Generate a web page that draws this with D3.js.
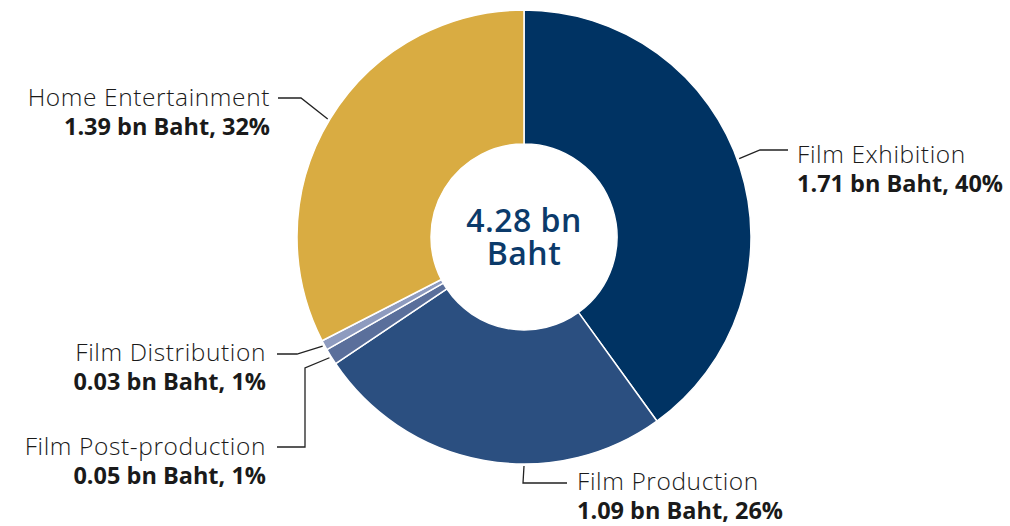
<!DOCTYPE html>
<html><head><meta charset="utf-8">
<script src="https://cdn.jsdelivr.net/npm/d3@7"></script>
<style>
html,body{margin:0;padding:0;background:#fff;}
svg{display:block;}
text{font-family:"Open Sans","Noto Sans",sans-serif;}
</style></head>
<body>
<svg id="chart" width="1010" height="526"></svg>
<script>
const categories = ["Film Exhibition","Film Production","Film Post-production","Film Distribution","Home Entertainment"];
const values = [1.71, 1.09, 0.05, 0.03, 1.39];
const percents = ["40%","26%","1%","1%","32%"];
const colors = ["#003363","#2b4f80","#5a6f9b","#8e9bbf","#d9ac42"];
const totalLabel = ["4.28 bn","Baht"];

const svg = d3.select("#chart");
const cx = 524, cy = 237, R = 227, r0 = 93;
const g = svg.append("g").attr("transform",`translate(${cx},${cy})`);

const pie = d3.pie().sort(null).value(d=>d.v).startAngle(0).endAngle(2*Math.PI);
const data = pie(categories.map((c,i)=>({c, v: values[i], p: percents[i], col: colors[i]})));
const arc = d3.arc().innerRadius(r0).outerRadius(R);

g.selectAll("path").data(data).join("path")
  .attr("d", arc).attr("fill", d=>d.data.col)
  .attr("stroke","#fff").attr("stroke-width",1.5).attr("stroke-linejoin","round");

// center text
const ct = g.append("text").attr("text-anchor","middle")
  .attr("fill","#0b3a6a").attr("font-size",32).attr("font-weight",600).attr("letter-spacing",0.5);
ct.append("tspan").attr("x",0).attr("y",-5).text(totalLabel[0]);
ct.append("tspan").attr("x",0).attr("y",28).text(totalLabel[1]);

// label layout: anchor angle (deg) on outer edge, polyline elbow points, text position
const layout = [
  {ang:70,   pts:[[760,150],[788,150]], tx:797, ty:163, anchor:"start"},
  {ang:180,  pts:[[523,483],[567,483]], tx:577, ty:490, anchor:"start"},
  {ang:null, pts:[[305,368],[305,447],[277,447]], tx:266, ty:455, anchor:"end"},
  {ang:null, pts:[[297,354],[277,354]], tx:266, ty:361, anchor:"end"},
  {ang:301,  pts:[[301,98],[278,98]], tx:270, ty:106, anchor:"end"}
];

data.forEach((d,i)=>{
  const L = layout[i];
  const a = L.ang != null ? L.ang*Math.PI/180 : (d.startAngle+d.endAngle)/2;
  const p0 = [cx + (R+2)*Math.sin(a), cy - (R+2)*Math.cos(a)];
  const line = d3.line();
  svg.append("path").attr("d", line([p0, ...L.pts]))
    .attr("fill","none").attr("stroke","#222").attr("stroke-width",1.3);
  const t = svg.append("text").attr("text-anchor",L.anchor).attr("fill","#1a1a1a");
  t.append("tspan").attr("x",L.tx).attr("y",L.ty).attr("font-size",24.5).attr("font-weight",300)
    .attr("letter-spacing",0.6).text(d.data.c);
  t.append("tspan").attr("x",L.tx).attr("y",L.ty+29).attr("font-size",23.5).attr("font-weight",700)
    .text(`${d.data.v.toFixed(2)} bn Baht, ${d.data.p}`);
});
</script>
</body></html>
